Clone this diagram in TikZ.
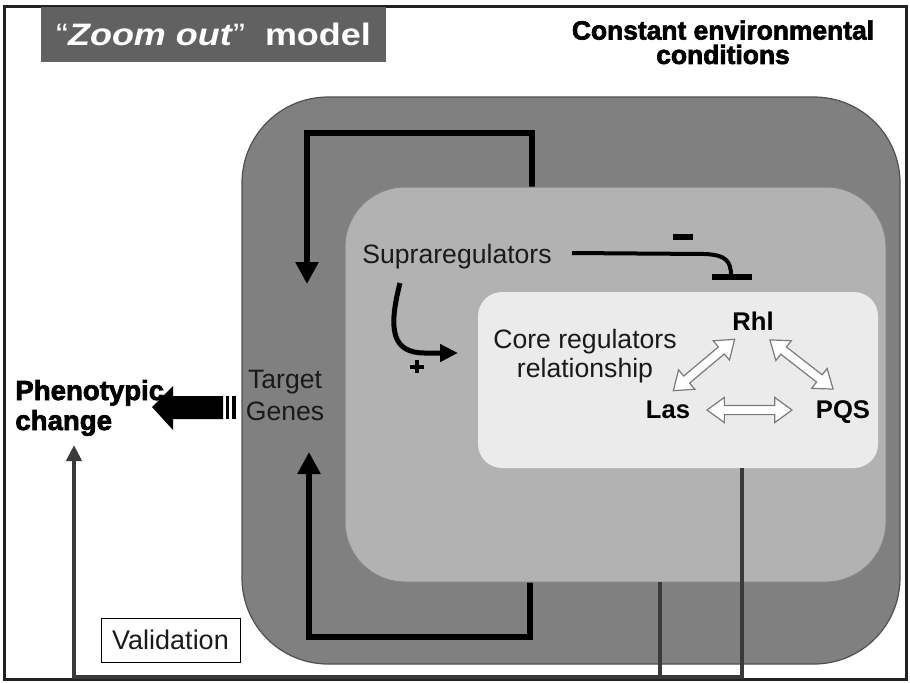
\documentclass[tikz,border=0pt]{standalone}
\usepackage{fontspec}
\setmainfont{Liberation Sans}
\newfontfamily\heavyfont{Liberation Sans}[BoldFeatures={FakeBold=2.5}]
\usetikzlibrary{shapes.arrows,arrows.meta}
\definecolor{framecol}{HTML}{222222}
\definecolor{titlegray}{HTML}{616161}
\definecolor{outergray}{HTML}{808080}
\definecolor{outeredge}{HTML}{505050}
\definecolor{innergray}{HTML}{B2B2B2}
\definecolor{inneredge}{HTML}{858585}
\definecolor{coregray}{HTML}{EBEBEB}
\definecolor{textdark}{HTML}{1A1A1A}
\definecolor{valcol}{HTML}{3A3A3A}
\definecolor{arrowedge}{HTML}{7A7A7A}
\tikzset{
  plaintext/.style={font=\fontsize{13.3}{16}\selectfont, text=textdark, inner sep=0pt},
  boldtext/.style={font=\fontsize{12.8}{15}\selectfont\bfseries, text=black, inner sep=0pt},
  heavytext/.style={font=\heavyfont\bfseries\fontsize{13.2}{12.2}\selectfont, text=black, inner sep=0pt},
  loopline/.style={line width=3pt, black, line join=miter, -{Triangle[length=11pt,width=11pt]}},
  valline/.style={line width=2pt, valcol, line join=miter},
  dblarrow/.style={double arrow, draw=arrowedge, fill=white, line width=0.6pt,
    inner xsep=0pt, inner ysep=2pt, double arrow head extend=4pt,
    double arrow tip angle=72, sloped},
}
\begin{document}
\begin{tikzpicture}[x=0.5pt,y=-0.5pt]
\useasboundingbox (0,0) rectangle (910,682);
\fill[white] (0,0) rectangle (910,682);

% outer cell envelope
\draw[fill=outergray, draw=outeredge, line width=0.6pt, rounded corners=43pt]
  (242,97) rectangle (900,664);

% feedback loops onto the target genes (run behind the inner box)
\coordinate (ta) at (532,210);
\coordinate (tb) at (532,133);
\coordinate (tc) at (307,133);
\coordinate (td) at (307,284);
\draw[loopline] (ta) -- (tb) -- (tc) -- (td);
\coordinate (ba) at (530,560);
\coordinate (bb) at (530,637);
\coordinate (bc) at (309,637);
\coordinate (bd) at (309,452);
\draw[loopline] (ba) -- (bb) -- (bc) -- (bd);

% inner regulatory box
\draw[fill=innergray, draw=inneredge, line width=0.5pt, rounded corners=30pt]
  (345,187) rectangle (886,582);

% core regulator box
\fill[coregray, rounded corners=12pt] (478,292) rectangle (878,468);

% frame
\draw[framecol, line width=1.5pt] (4,6) rectangle (906,679);

% title
\node[fill=titlegray, minimum width=172.5pt, minimum height=27.5pt, inner sep=0pt,
      text=white] (title) at (213.5,34.5)
  {\fontsize{15.5}{18}\selectfont\scalebox{1.16}[1]{“\textbf{\textit{Zoom out}}”\ \ \textbf{model}}};

\node[heavytext, anchor=north, align=center] (env) at (723,20)
  {Constant environmental\\conditions};

% labels
\node[plaintext, anchor=base west] (supra) at (362,263) {Supraregulators};
\node[plaintext, anchor=base] (core1) at (585,348) {Core regulators};
\node[plaintext, anchor=base] (core2) at (585,377) {relationship};
\node[plaintext, anchor=base] (tg1) at (285,388) {Target};
\node[plaintext, anchor=base] (tg2) at (285,420) {Genes};
\node[boldtext, anchor=base] (rhl) at (753,330) {Rhl};
\node[boldtext, anchor=base] (las) at (668,418) {Las};
\node[boldtext, anchor=base] (pqs) at (843,418) {PQS};
\node[heavytext, font=\heavyfont\bfseries\fontsize{13.8}{16}\selectfont, anchor=base west]
  (phen) at (15,400) {Phenotypic};
\node[heavytext, font=\heavyfont\bfseries\fontsize{13.8}{16}\selectfont, anchor=base west]
  (chg) at (15,430) {change};

% hollow double arrows between the core regulators
\coordinate (r1) at (735,339);
\coordinate (l1) at (673,391);
\coordinate (r2) at (770,340);
\coordinate (p2) at (833,389);
\coordinate (l3) at (707,410);
\coordinate (p3) at (792,410);
\path (r1) -- (l1) node[dblarrow, midway, minimum height=40pt] (rl) {};
\path (r2) -- (p2) node[dblarrow, midway, minimum height=40pt] (rp) {};
\path (l3) -- (p3) node[dblarrow, midway, minimum height=42.5pt] (lp) {};

% negative regulation of Rhl by the supraregulators
\coordinate (ia) at (572,253);
\coordinate (ib) at (731,276);
\draw[line width=2pt, black] (ia) -- (705,254) .. controls (726,255) and (731,261) .. (ib);
\draw[line width=3pt, black] (712,277) -- (752,277);
\fill[black] (673,234) rectangle (693,240);

% positive regulation of the core by the supraregulators
\coordinate (pa) at (400,283);
\coordinate (pb) at (458,353);
\draw[line width=2.5pt, black, -{Triangle[length=9pt,width=8.5pt]}]
  (pa) .. controls (388,330) and (392,353) .. (425,353) -- (pb);
\fill[black] (410,365) rectangle (424,369);
\fill[black] (415,360) rectangle (419,373);

% output arrow towards the phenotype
\fill[black] (152,407) -- (173,386) -- (173,396) -- (223,396) -- (223,419)
  -- (173,419) -- (173,430) -- cycle;
\fill[black] (226,396) rectangle (229,419);
\fill[black] (232,396) rectangle (236,419);

% validation route
\node[draw=black, line width=0.5pt, fill=white, minimum width=69.5pt,
      minimum height=22pt, inner sep=0pt, font=\fontsize{13.5}{16}\selectfont,
      text=textdark] (valid) at (170.5,640) {Validation};
\coordinate (v1) at (742,468);
\coordinate (v2) at (742,677);
\coordinate (v3) at (74,677);
\coordinate (v4) at (74,445);
\coordinate (w1) at (660,582);
\coordinate (w2) at (660,677);
\draw[valline, -{Triangle[length=8pt,width=7.5pt]}] (v1) -- (v2) -- (v3) -- (v4);
\draw[valline] (w1) -- (w2);
\end{tikzpicture}
\end{document}
